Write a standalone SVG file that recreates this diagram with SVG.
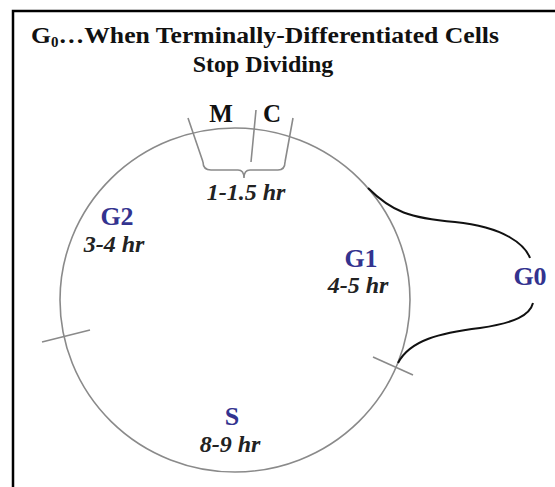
<svg xmlns="http://www.w3.org/2000/svg" width="555" height="487" viewBox="0 0 555 487">
<style>
.t{font-family:"Liberation Serif","Times New Roman",serif;font-weight:bold;fill:#111;text-anchor:middle}
.ph{font-family:"Liberation Serif","Times New Roman",serif;font-weight:bold;fill:#33338f;text-anchor:middle;font-size:26px}
.hr{font-family:"Liberation Serif","Times New Roman",serif;font-weight:bold;font-style:italic;fill:#222;text-anchor:middle;font-size:24px}
.g{fill:none;stroke:#8a8a8a;stroke-width:1.6}
.k{fill:none;stroke:#111;stroke-width:2}
</style>
<rect x="0" y="0" width="555" height="487" fill="#fff"/>
<path d="M13,487 V11 H555" fill="none" stroke="#000" stroke-width="2.5"/>
<g id="title">
<text class="t" x="265" y="43" font-size="24" textLength="468" lengthAdjust="spacingAndGlyphs">G<tspan font-size="14" dy="4">0</tspan><tspan dy="-4">…When Terminally-Differentiated  Cells</tspan></text>
<text class="t" x="263" y="72" font-size="24">Stop Dividing</text>
</g>
<g id="cycle">
<ellipse class="g" cx="235" cy="300" rx="175" ry="172"/>
</g>
<g id="connectors">
<path class="g" d="M188,118 L203,162 M256,110 L251,162 M293,118 L285,162"/>
<path class="g" d="M203,162 Q203,170 211,170 L238,170 Q244,170 244,178 Q244,170 250,170 L278,170 Q285,170 285,162"/>
<path class="g" d="M42,342 L90,330"/>
<path class="g" d="M373,357 L413,375"/>
<path class="k" d="M368,188 C392,212 410,218 455,222 C505,227 525,245 530,258"/>
<path class="k" d="M398,363 C410,340 440,333 480,328 C515,323 530,315 533,303"/>
</g>
<g id="M"><text class="t" x="221" y="122" font-size="25">M</text></g>
<g id="C"><text class="t" x="272" y="122" font-size="25">C</text></g>
<g id="MC-time"><text class="hr" x="246" y="200">1-1.5 hr</text></g>
<g id="G2"><text class="ph" x="117" y="225">G2</text><text class="hr" x="114" y="252">3-4 hr</text></g>
<g id="G1"><text class="ph" x="361" y="267">G1</text><text class="hr" x="358" y="293">4-5 hr</text></g>
<g id="G0"><text class="ph" x="530" y="285" font-size="22">G0</text></g>
<g id="S"><text class="ph" x="232" y="425">S</text><text class="hr" x="230" y="452">8-9 hr</text></g>
</svg>
